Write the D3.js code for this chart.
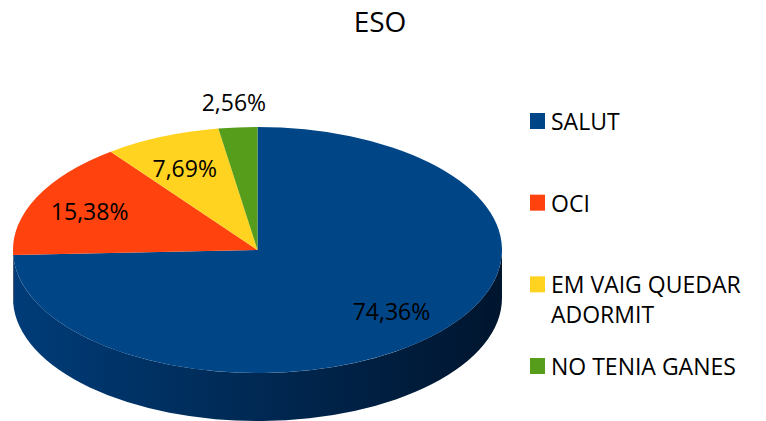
<!DOCTYPE html>
<html>
<head>
<meta charset="utf-8">
<script src="https://cdn.jsdelivr.net/npm/d3@7"></script>
<style>
  body { margin: 0; background: #fff; }
  text { font-family: "Open Sans", sans-serif; fill: #000; }
</style>
</head>
<body>
<div id="chart"></div>
<script>
// data
var title = "ESO";
var categories = ["SALUT", "OCI", "EM VAIG QUEDAR ADORMIT", "NO TENIA GANES"];
var legendLines = [["SALUT"], ["OCI"], ["EM VAIG QUEDAR", "ADORMIT"], ["NO TENIA GANES"]];
var values = [74.36, 15.38, 7.69, 2.56];
var colors = ["#004586", "#ff420e", "#ffd320", "#579d1c"];
var sideColors = [["#003c78", "#00152e"], ["#c8330a", "#a02808"], ["#d6ae18", "#b08f12"], ["#44801a", "#366614"]];

var width = 766, height = 421;
var cx = 257.5, cy = 250, rx = 244.5, ry = 123, depth = 48;

var svg = d3.select("#chart").append("svg")
    .attr("width", width)
    .attr("height", height);

var defs = svg.append("defs");
sideColors.forEach(function(c, i) {
    var g = defs.append("linearGradient")
        .attr("id", "side" + i)
        .attr("gradientUnits", "userSpaceOnUse")
        .attr("x1", cx - rx).attr("x2", cx + rx)
        .attr("y1", 0).attr("y2", 0);
    g.append("stop").attr("offset", 0).attr("stop-color", c[0]);
    g.append("stop").attr("offset", 1).attr("stop-color", c[1]);
});

svg.append("text")
    .attr("x", 380)
    .attr("y", 32)
    .attr("text-anchor", "middle")
    .style("font-size", "28px")
    .text(title);

var pie = d3.pie().sort(null).value(function(d) { return d; });
var arcs = pie(values);

function pt(a, k) {
    return [cx + rx * k * Math.sin(a), cy - ry * k * Math.cos(a)];
}

// side walls: only the front half (angles between PI/2 and 3PI/2)
var sides = svg.append("g").attr("class", "sides");
arcs.forEach(function(d, i) {
    var a0 = Math.max(d.startAngle, Math.PI / 2),
        a1 = Math.min(d.endAngle, 3 * Math.PI / 2);
    if (a1 <= a0) return;
    var p0 = pt(a0, 1), p1 = pt(a1, 1);
    var large = (a1 - a0) > Math.PI ? 1 : 0;
    var p = "M" + p0[0] + "," + p0[1] +
        "A" + rx + "," + ry + " 0 " + large + " 1 " + p1[0] + "," + p1[1] +
        "L" + p1[0] + "," + (p1[1] + depth) +
        "A" + rx + "," + ry + " 0 " + large + " 0 " + p0[0] + "," + (p0[1] + depth) + "Z";
    sides.append("path")
        .attr("d", p)
        .attr("fill", "url(#side" + i + ")");
});

// top face: circular arcs squashed into an ellipse
var arc = d3.arc().innerRadius(0).outerRadius(rx);
svg.append("g")
    .attr("transform", "translate(" + cx + "," + cy + ") scale(1," + (ry / rx) + ")")
    .selectAll("path")
    .data(arcs)
    .enter()
    .append("path")
    .attr("d", arc)
    .attr("fill", function(d, i) { return colors[i]; });

// value labels
svg.append("g").selectAll("text")
    .data(arcs)
    .enter()
    .append("text")
    .attr("x", function(d) {
        var m = (d.startAngle + d.endAngle) / 2;
        return pt(m, d.data > 5 ? 0.76 : 1.2)[0];
    })
    .attr("y", function(d) {
        var m = (d.startAngle + d.endAngle) / 2;
        return pt(m, d.data > 5 ? 0.72 : 1.2)[1];
    })
    .attr("dy", "0.36em")
    .attr("text-anchor", "middle")
    .style("font-size", "23px")
    .text(function(d) { return d3.format(".2f")(d.data).replace(".", ",") + "%"; });

// legend
var ly = d3.scalePoint().domain(categories).range([113, 358]);
var legend = svg.append("g").selectAll("g")
    .data(categories)
    .enter()
    .append("g")
    .attr("transform", function(d) { return "translate(530," + ly(d) + ")"; });

legend.append("rect")
    .attr("width", 15)
    .attr("height", 16)
    .attr("fill", function(d, i) { return colors[i]; });

legend.append("text")
    .attr("x", 21)
    .attr("y", 17)
    .style("font-size", "23px")
    .selectAll("tspan")
    .data(function(d, i) { return legendLines[i]; })
    .enter()
    .append("tspan")
    .attr("x", 21)
    .attr("dy", function(d, j) { return j ? 30 : 0; })
    .text(function(d) { return d; });
</script>
</body>
</html>
